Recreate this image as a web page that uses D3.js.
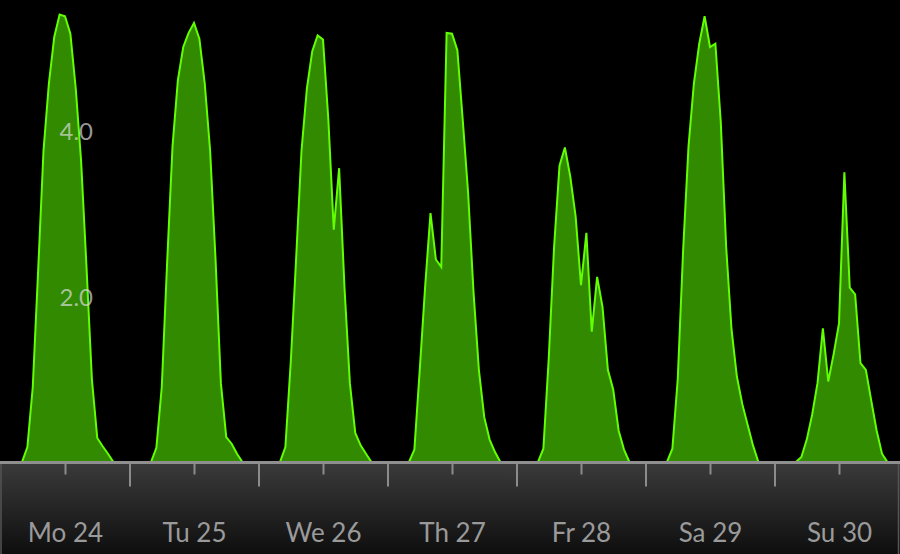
<!DOCTYPE html>
<html>
<head>
<meta charset="utf-8">
<script src="https://cdn.jsdelivr.net/npm/d3@7"></script>
<style>
  html, body { margin: 0; padding: 0; background: #000; }
  svg { display: block; }
</style>
</head>
<body>
<svg id="chart" width="900" height="554"></svg>
<script>
// ---- data ----
const dayLabels = ["Mo 24", "Tu 25", "We 26", "Th 27", "Fr 28", "Sa 29", "Su 30"];
const hours = [4, 5, 6, 7, 8, 9, 10, 11, 12, 13, 14, 15, 16, 17, 18, 19, 20, 21];
const mo = [0, 0.18, 0.90, 2.30, 3.75, 4.56, 5.12, 5.39, 5.37, 5.16, 4.50, 3.62, 2.35, 1.00, 0.29, 0.19, 0.10, 0];
const tu = [0, 0.17, 0.90, 2.40, 3.80, 4.60, 5.00, 5.17, 5.29, 5.10, 4.56, 3.75, 2.45, 0.95, 0.30, 0.22, 0.10, 0];
const we = [0, 0.18, 1.20, 2.45, 3.75, 4.50, 4.95, 5.14, 5.09, 4.12, 2.80, 3.54, 2.10, 0.95, 0.35, 0.20, 0.10, 0];
const th = [0, 0.15, 1.11, 2.11, 3.00, 2.44, 2.35, 5.17, 5.16, 4.96, 4.12, 3.24, 2.05, 1.11, 0.54, 0.27, 0.12, 0];
const fr = [0, 0.16, 1.25, 2.60, 3.57, 3.79, 3.44, 2.96, 2.13, 2.76, 1.57, 2.23, 1.87, 1.11, 0.87, 0.38, 0.15, 0];
const sa = [0, 0.16, 1.00, 2.55, 3.80, 4.56, 5.04, 5.37, 5.00, 5.04, 4.10, 2.60, 1.60, 1.03, 0.70, 0.45, 0.20, 0];
const su = [0, 0.06, 0.27, 0.57, 0.95, 1.61, 0.97, 1.30, 1.67, 3.49, 2.10, 2.02, 1.19, 1.11, 0.74, 0.38, 0.10, 0];
const yTicks = [2.0, 4.0];
const hoursPerDay = 24;

// ---- build series ----
const daySeries = [mo, tu, we, th, fr, sa, su];
const series = [{t: 0, v: 0}];
daySeries.forEach((vals, d) => {
  hours.forEach((h, i) => series.push({t: d * hoursPerDay + h, v: vals[i]}));
});
series.push({t: dayLabels.length * hoursPerDay, v: 0});

// ---- scales ----
const W = 900, H = 554, baseY = 462;
const x = d3.scaleLinear().domain([0, dayLabels.length * hoursPerDay]).range([0.5, 903.5]);
const y = d3.scaleLinear().domain([0, 4]).range([baseY, 130]);

const svg = d3.select("#chart");
const defs = svg.append("defs");
const grad = defs.append("linearGradient").attr("id", "band").attr("x1", 0).attr("y1", 0).attr("x2", 0).attr("y2", 1);
grad.append("stop").attr("offset", "0%").attr("stop-color", "#3b3b3b");
grad.append("stop").attr("offset", "100%").attr("stop-color", "#0e0e0e");

svg.append("rect").attr("x", 0).attr("y", 0).attr("width", W).attr("height", H).attr("fill", "#000");
svg.append("rect").attr("x", 0).attr("y", baseY).attr("width", W).attr("height", H - baseY).attr("fill", "url(#band)");
svg.append("line").attr("x1", 1).attr("x2", 1).attr("y1", baseY).attr("y2", H).attr("stroke", "#555").attr("stroke-width", 1.5);
svg.append("line").attr("x1", 898.5).attr("x2", 898.5).attr("y1", baseY).attr("y2", H).attr("stroke", "#555").attr("stroke-width", 1.5);

// ---- area ----
const area = d3.area().x(d => x(d.t)).y0(y(0)).y1(d => y(d.v));
const line = d3.line().x(d => x(d.t)).y(d => y(d.v));
svg.append("path").datum(series).attr("d", area).attr("fill", "#318a00");
svg.append("path").datum(series).attr("d", line).attr("fill", "none")
  .attr("stroke", "#62ff00").attr("stroke-width", 2).attr("stroke-linejoin", "miter");

// ---- x axis ----
const majorTicks = d3.range(1, dayLabels.length).map(d => d * hoursPerDay);
const minorTicks = dayLabels.map((_, d) => d * hoursPerDay + hoursPerDay / 2);

const gMajor = svg.append("g").attr("transform", `translate(0,${baseY + 1.5})`)
  .call(d3.axisBottom(x).tickValues(majorTicks).tickSize(23).tickFormat(""));
const gMinor = svg.append("g").attr("transform", `translate(0,${baseY + 1.5})`)
  .call(d3.axisBottom(x).tickValues(minorTicks).tickSize(11).tickFormat((d, i) => dayLabels[i]));
[gMajor, gMinor].forEach(g => {
  g.select(".domain").remove();
  g.selectAll(".tick line").attr("stroke", "#8c8c8c").attr("stroke-width", 2);
});
gMinor.selectAll(".tick text")
  .attr("y", 78).attr("dy", 0)
  .attr("fill", "#9a9a9a")
  .style("font-family", "Lato, 'Open Sans', sans-serif")
  .style("font-size", "26px");

svg.append("line").attr("x1", 0).attr("x2", W).attr("y1", baseY + 0.5).attr("y2", baseY + 0.5)
  .attr("stroke", "#8f8f8f").attr("stroke-width", 3);

// ---- y labels ----
svg.append("g").selectAll("text").data(yTicks).join("text")
  .attr("x", 93).attr("y", d => y(d) + 2).attr("dy", "0.35em")
  .attr("text-anchor", "end")
  .attr("fill", "#dcdcdc").attr("fill-opacity", 0.7)
  .style("font-family", "Lato, 'Open Sans', sans-serif")
  .style("font-size", "24px")
  .text(d => d.toFixed(1));
</script>
</body>
</html>
